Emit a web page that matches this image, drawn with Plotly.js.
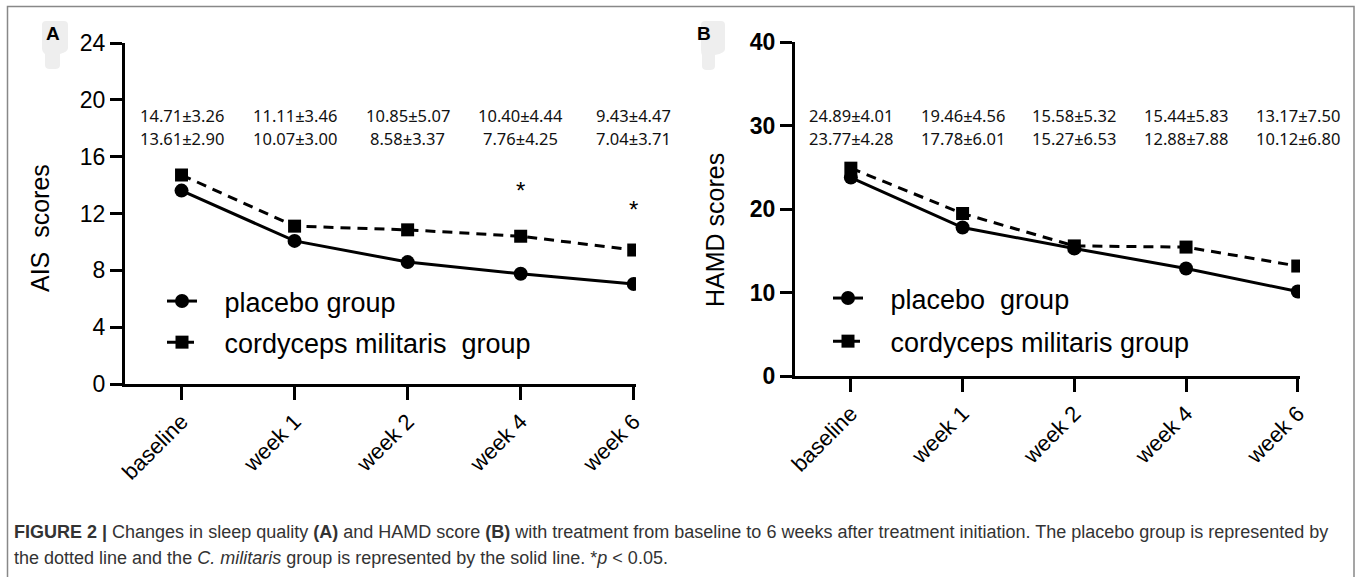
<!DOCTYPE html>
<html>
<head>
<meta charset="utf-8">
<script src="https://cdn.plot.ly/plotly-3.0.1.min.js"></script>
<style>html,body{margin:0;padding:0;background:#fff;}#chart{width:1357px;height:577px;}</style>
</head>
<body>
<div id="chart"></div>
<script>
// ---- data ----
var timepoints = ["baseline", "week 1", "week 2", "week 4", "week 6"];
var aisPlacebo = [13.61, 10.07, 8.58, 7.76, 7.04];
var aisCordyceps = [14.71, 11.11, 10.85, 10.40, 9.43];
var aisPlaceboSD = [2.90, 3.00, 3.37, 4.25, 3.71];
var aisCordycepsSD = [3.26, 3.46, 5.07, 4.44, 4.47];
var hamdPlacebo = [23.77, 17.78, 15.27, 12.88, 10.12];
var hamdCordyceps = [24.89, 19.46, 15.58, 15.44, 13.17];
var hamdPlaceboSD = [4.28, 6.01, 6.53, 7.88, 6.80];
var hamdCordycepsSD = [4.01, 4.56, 5.32, 5.83, 7.50];
var aisStars = [null, null, null, 13.6, 12.3]; // y position of significance marks
var aisTicks = [0, 4, 8, 12, 16, 20, 24];
var hamdTicks = [0, 10, 20, 30, 40];

var W = 1357, H = 577;
function px(x) { return x / W; }
function py(y) { return 1 - y / H; }

var idx = timepoints.map(function (_, i) { return i; });
var FONT = "Liberation Sans, Arial, sans-serif";
var NB = "\u00a0\u00a0\u00a0";

var traces = [
  { x: idx, y: aisPlacebo, name: NB + "placebo group", mode: "lines+markers", xaxis: "x", yaxis: "y",
    line: { color: "#000", width: 3 }, marker: { symbol: "circle", size: 14, color: "#000" },
    legend: "legend", legendgroup: "a1" },
  { x: idx, y: aisCordyceps, name: NB + "cordyceps militaris  group", mode: "lines+markers", xaxis: "x", yaxis: "y",
    line: { color: "#000", width: 3, dash: "10px,7px" }, marker: { symbol: "square", size: 13, color: "#000" },
    legend: "legend", legendgroup: "a2" },
  { x: idx, y: hamdPlacebo, name: NB + "placebo  group", mode: "lines+markers", xaxis: "x2", yaxis: "y2",
    line: { color: "#000", width: 3 }, marker: { symbol: "circle", size: 14, color: "#000" },
    legend: "legend2", legendgroup: "b1" },
  { x: idx, y: hamdCordyceps, name: NB + "cordyceps militaris group", mode: "lines+markers", xaxis: "x2", yaxis: "y2",
    line: { color: "#000", width: 3, dash: "10px,7px" }, marker: { symbol: "square", size: 13, color: "#000" },
    legend: "legend2", legendgroup: "b2" }
];

function fmt(v) { return v.toFixed(2); }
var VF = { family: "Noto Sans", size: 16.5, color: "#111" };
var annotations = [];
function ann(o) { o.showarrow = false; o.xanchor = o.xanchor || "center"; o.yanchor = o.yanchor || "middle"; annotations.push(o); }
idx.forEach(function (i) {
  ann({ x: i, xref: "x", y: py(116), yref: "paper", text: fmt(aisCordyceps[i]) + "±" + fmt(aisCordycepsSD[i]), font: VF });
  ann({ x: i, xref: "x", y: py(138), yref: "paper", text: fmt(aisPlacebo[i]) + "±" + fmt(aisPlaceboSD[i]), font: VF });
  ann({ x: i, xref: "x2", y: py(116), yref: "paper", text: fmt(hamdCordyceps[i]) + "±" + fmt(hamdCordycepsSD[i]), font: VF });
  ann({ x: i, xref: "x2", y: py(138), yref: "paper", text: fmt(hamdPlacebo[i]) + "±" + fmt(hamdPlaceboSD[i]), font: VF });
  if (aisStars[i] !== null) {
    ann({ x: i, xref: "x", y: aisStars[i], yref: "y", text: "*", font: { family: FONT, size: 24, color: "#000" } });
  }
});
// axis titles
ann({ x: px(40), y: py(228), xref: "paper", yref: "paper", textangle: -90,
  text: "AIS  scores", font: { family: FONT, size: 25, color: "#000" } });
ann({ x: px(715), y: py(230), xref: "paper", yref: "paper", textangle: -90,
  text: "HAMD scores", font: { family: FONT, size: 25, color: "#000" } });
// panel labels
ann({ x: px(53), y: py(34), xref: "paper", yref: "paper", text: "<b>A</b>", font: { family: FONT, size: 19, color: "#000" } });
ann({ x: px(704), y: py(34), xref: "paper", yref: "paper", text: "<b>B</b>", font: { family: FONT, size: 19, color: "#000" } });
// caption
ann({ x: px(12), y: py(532), xref: "paper", yref: "paper", xanchor: "left",
  text: "<b>FIGURE 2 |</b> Changes in sleep quality <b>(A)</b> and HAMD score <b>(B)</b> with treatment from baseline to 6 weeks after treatment initiation. The placebo group is represented by",
  font: { family: FONT, size: 18, color: "#333" } });
ann({ x: px(12), y: py(558), xref: "paper", yref: "paper", xanchor: "left",
  text: "the dotted line and the <i>C. militaris</i> group is represented by the solid line. *<i>p</i> < 0.05.",
  font: { family: FONT, size: 18, color: "#333" } });

function blob(l, r, nl, nr, t, m, b) {
  // rounded "thumb" shape: wide top part from t to m, narrower lower part to b
  var P = function (x, y) { return px(x).toFixed(5) + "," + py(y).toFixed(5); };
  return "M" + P(l + 4, t) + " L" + P(r - 4, t) + " Q" + P(r, t) + " " + P(r, t + 4) +
    " L" + P(r, m - 4) + " Q" + P(r, m) + " " + P(nr, m + 2) +
    " L" + P(nr, b - 4) + " Q" + P(nr, b) + " " + P(nr - 5, b) +
    " L" + P(nl + 5, b) + " Q" + P(nl, b) + " " + P(nl, b - 4) +
    " L" + P(nl, m + 2) + " Q" + P(l, m) + " " + P(l, m - 4) +
    " L" + P(l, t + 4) + " Q" + P(l, t) + " " + P(l + 4, t) + " Z";
}

var shapes = [
  { type: "rect", xref: "paper", yref: "paper", x0: px(7.5), x1: px(1354), y0: py(590), y1: py(6.5),
    line: { color: "#888", width: 1.5 }, fillcolor: "rgba(0,0,0,0)" },
  { type: "path", xref: "paper", yref: "paper", path: blob(42, 68, 45, 60, 21, 52, 69),
    line: { width: 0 }, fillcolor: "#eeeeee", layer: "below" },
  { type: "path", xref: "paper", yref: "paper", path: blob(701, 725, 702, 715, 21, 53, 70),
    line: { width: 0 }, fillcolor: "#eeeeee", layer: "below" }
];

function xaxisCfg(domain, anchor) {
  return { domain: domain, anchor: anchor, range: [-0.5, 4.02], tickvals: idx, ticktext: timepoints,
    tickangle: -45, ticks: "outside", ticklen: 13, tickwidth: 3, tickcolor: "#000",
    showline: true, linewidth: 3, linecolor: "#000", showgrid: false, zeroline: false,
    tickfont: { family: FONT, size: 22, color: "#000" }, fixedrange: true };
}
function yaxisCfg(domain, anchor, range, tv, bold) {
  return { domain: domain, anchor: anchor, range: range, tickvals: tv, ticks: "outside", ticklen: 12,
    tickwidth: 3, tickcolor: "#000", showline: true, linewidth: 3, linecolor: "#000", showgrid: false,
    zeroline: false, tickfont: { family: FONT, size: 23, color: "#000", weight: bold ? "bold" : "normal" },
    fixedrange: true };
}

var layout = {
  width: W, height: H,
  margin: { l: 0, r: 0, t: 0, b: 0 },
  paper_bgcolor: "#fff", plot_bgcolor: "rgba(0,0,0,0)",
  showlegend: true,
  xaxis: xaxisCfg([px(125), px(636)], "y"),
  yaxis: yaxisCfg([py(384), py(43)], "x", [0, 24], aisTicks, false),
  xaxis2: xaxisCfg([px(795), px(1300)], "y2"),
  yaxis2: yaxisCfg([py(376), py(42)], "x2", [0, 40], hamdTicks, true),
  legend: { x: px(162), y: py(277), xanchor: "left", yanchor: "top", bgcolor: "rgba(0,0,0,0)",
    font: { family: FONT, size: 27, color: "#000" }, tracegroupgap: 3, traceorder: "grouped" },
  legend2: { x: px(828), y: py(274), xanchor: "left", yanchor: "top", bgcolor: "rgba(0,0,0,0)",
    font: { family: FONT, size: 27, color: "#000" }, tracegroupgap: 5, traceorder: "grouped" },
  annotations: annotations,
  shapes: shapes
};

Plotly.newPlot("chart", traces, layout, { displayModeBar: false, staticPlot: true });
</script>
</body>
</html>
